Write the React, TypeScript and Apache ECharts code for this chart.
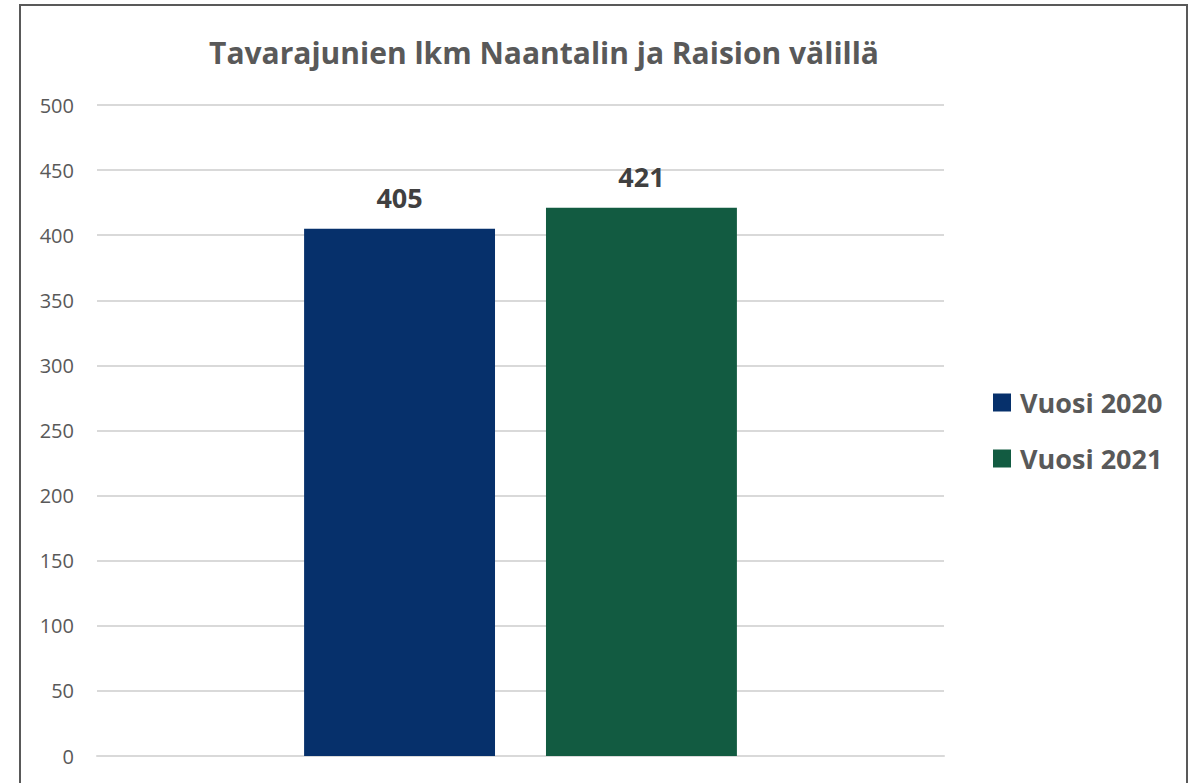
import React, { useEffect, useRef } from "react";
import * as echarts from "echarts";

const categories = ["Tavarajunat"];
const seriesNames = ["Vuosi 2020", "Vuosi 2021"];
const values2020 = [405];
const values2021 = [421];
const colors = ["#06306b", "#125b41"];
const titleText = "Tavarajunien lkm Naantalin ja Raision välillä";

export default function App() {
  const ref = useRef<HTMLDivElement>(null);
  useEffect(() => {
    const chart = echarts.init(ref.current!, null, { renderer: "svg" });
    const labelStyle = {
      show: true,
      position: "top" as const,
      distance: 18,
      fontSize: 27,
      fontWeight: "bold" as const,
      color: "#404040",
      fontFamily: "Open Sans",
    };
    chart.setOption({
      animation: false,
      backgroundColor: "#ffffff",
      title: {
        text: titleText,
        left: 539,
        textAlign: "center",
        top: 32,
        textStyle: { fontFamily: "Open Sans", fontWeight: "bold", fontSize: 30, color: "#595959" },
      },
      graphic: [
        {
          type: "rect",
          shape: { x: 20, y: 5, width: 1167, height: 820 },
          style: { fill: "none", stroke: "#595959", lineWidth: 2 },
          silent: true,
        },
      ],
      legend: {
        orient: "vertical",
        left: 988,
        top: 384,
        itemWidth: 18,
        itemHeight: 18,
        itemGap: 29,
        icon: "rect",
        textStyle: {
          fontFamily: "Open Sans",
          fontWeight: "bold",
          fontSize: 27,
          color: "#595959",
          padding: [0, 0, 0, 4],
        },
        data: seriesNames,
      },
      grid: { left: 97, right: 1199 - 944, top: 105, bottom: 783 - 756, containLabel: false },
      xAxis: {
        type: "category",
        data: categories,
        axisLine: { show: true, lineStyle: { color: "#d9d9d9", width: 2 } },
        axisTick: { show: false },
        axisLabel: { show: false },
      },
      yAxis: {
        type: "value",
        min: 0,
        max: 500,
        interval: 50,
        axisLine: { show: false },
        axisTick: { show: false },
        axisLabel: { fontFamily: "Open Sans", fontSize: 20, color: "#595959", margin: 23 },
        splitLine: { lineStyle: { color: "#d9d9d9", width: 2 } },
      },
      series: [
        {
          name: seriesNames[0],
          type: "bar",
          data: values2020,
          itemStyle: { color: colors[0] },
          barGap: "26.7%",
          barCategoryGap: "48.9%",
          label: labelStyle,
        },
        {
          name: seriesNames[1],
          type: "bar",
          data: values2021,
          itemStyle: { color: colors[1] },
          barGap: "26.7%",
          barCategoryGap: "48.9%",
          label: labelStyle,
        },
      ],
    });
    return () => chart.dispose();
  }, []);
  return (
    <div
      ref={ref}
      style={{ position: "fixed", left: 0, top: 0, width: 1199, height: 783 }}
    />
  );
}
